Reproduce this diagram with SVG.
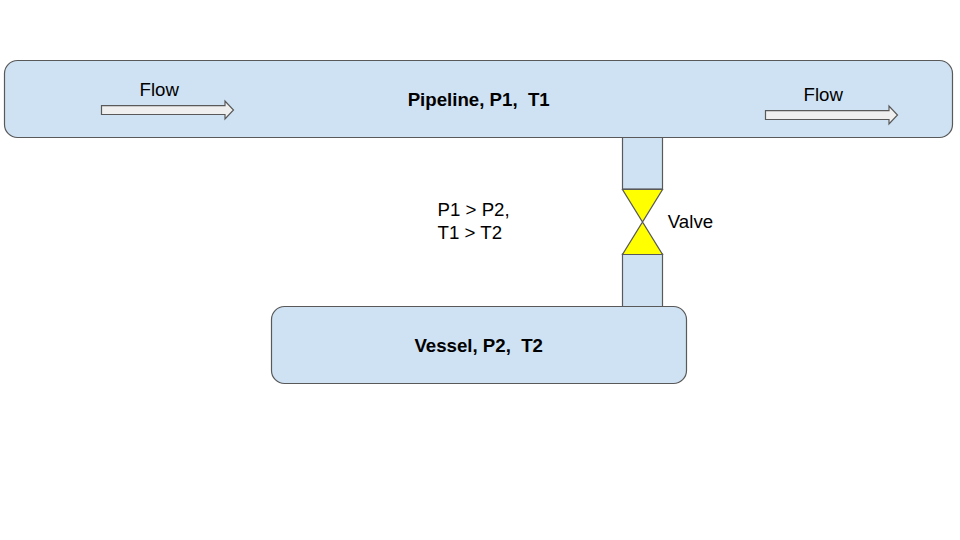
<svg xmlns="http://www.w3.org/2000/svg" width="960" height="540" viewBox="0 0 960 540">
<style>
.b{fill:#cfe2f3;stroke:#595959;stroke-width:1.2}
.a{fill:#efefef;stroke:#595959;stroke-width:1.2}
.v{fill:#ffff00;stroke:#595959;stroke-width:1.2}
text{font-family:"Liberation Sans",Arial,sans-serif;font-size:18.67px;fill:#000;white-space:pre}
.t{font-weight:bold}
</style>
<rect width="960" height="540" fill="#fff"/>
<g id="pipe-upper"><rect class="b" x="622.500" y="137" width="40" height="52"/></g>
<g id="pipe-lower"><rect class="b" x="622.500" y="254" width="40" height="53"/></g>
<g id="pipeline"><rect class="b" x="4.500" y="60.500" width="948" height="77" rx="13"/><text class="t" x="478.700" y="106" text-anchor="middle" xml:space="preserve">Pipeline, P1,  T1</text></g>
<g id="vessel"><rect class="b" x="271.500" y="306.500" width="415" height="77" rx="13"/><text class="t" x="478.700" y="352" text-anchor="middle" xml:space="preserve">Vessel, P2,  T2</text></g>
<g id="valve"><path class="v" d="M622.500 189.500H662.500L622.500 254.500H662.500Z"/><text x="667.800" y="228">Valve</text></g>
<g id="flow-left"><path class="a" d="M101.500 105.700H225V101L233.500 110L225 119V114.500H101.500Z"/><text x="139.500" y="96">Flow</text></g>
<g id="flow-right"><path class="a" d="M765.500 110.700H889V106L897.500 115L889 124V119.500H765.500Z"/><text x="803.500" y="101">Flow</text></g>
<g id="note"><text x="437.600" y="216">P1 &gt; P2,</text><text x="437.600" y="239">T1 &gt; T2</text></g>
<g id="connectors"/>
</svg>
